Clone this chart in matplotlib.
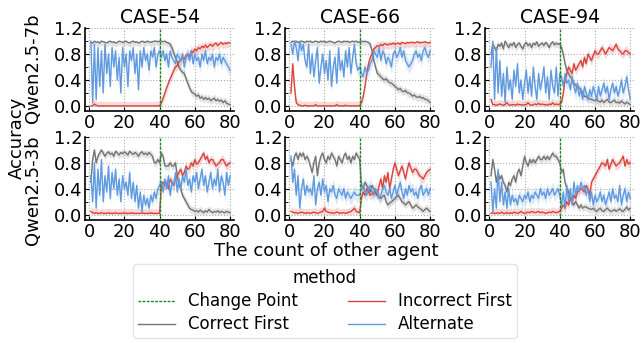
import numpy as np
import matplotlib
matplotlib.use('Agg')
import matplotlib.pyplot as plt
from matplotlib.ticker import MultipleLocator

# x axis: count of other agent
x = np.arange(1, 81)
change_point = 40
cases = ['CASE-54', 'CASE-66', 'CASE-94']
models = ['Qwen2.5-7b', 'Qwen2.5-3b']

# ---- Qwen2.5-7b ----
c54_7b_correct = [0.98, 0.97, 1.0, 0.98, 0.99, 0.97, 1.0, 0.99, 0.98, 0.97,
                  0.99, 1.0, 0.98, 0.99, 0.97, 0.98, 1.0, 0.99, 0.98, 0.99,
                  1.0, 0.98, 0.97, 0.99, 1.0, 0.98, 0.99, 0.97, 0.98, 1.0,
                  0.99, 0.98, 1.0, 0.99, 0.98, 0.99, 1.0, 1.0, 0.99, 1.0,
                  1.0, 0.99, 1.0, 0.98, 0.97, 0.95, 0.9, 0.82, 0.75, 0.68,
                  0.6, 0.55, 0.52, 0.5, 0.42, 0.35, 0.28, 0.22, 0.2, 0.18,
                  0.15, 0.17, 0.12, 0.14, 0.1, 0.13, 0.1, 0.12, 0.08, 0.1,
                  0.12, 0.08, 0.1, 0.07, 0.09, 0.05, 0.08, 0.04, 0.03, 0.02]
c54_7b_incorrect = [0.0, 0.0, 0.03, 0.01, 0.0, 0.0, 0.0, 0.0, 0.0, 0.0,
                    0.0, 0.0, 0.0, 0.0, 0.0, 0.0, 0.0, 0.0, 0.0, 0.0,
                    0.0, 0.0, 0.0, 0.0, 0.0, 0.0, 0.0, 0.0, 0.0, 0.0,
                    0.0, 0.0, 0.0, 0.0, 0.0, 0.0, 0.0, 0.0, 0.0, 0.0,
                    0.05, 0.12, 0.2, 0.28, 0.35, 0.42, 0.48, 0.55, 0.6, 0.62,
                    0.68, 0.7, 0.75, 0.72, 0.78, 0.8, 0.76, 0.85, 0.82, 0.88,
                    0.85, 0.9, 0.88, 0.92, 0.9, 0.94, 0.9, 0.93, 0.95, 0.92,
                    0.95, 0.97, 0.93, 0.96, 0.98, 0.95, 0.97, 0.96, 0.98, 0.97]
c54_7b_alternate = [1.0, 0.05, 0.95, 0.1, 0.9, 0.3, 0.85, 0.2, 0.95, 0.5,
                    0.8, 0.3, 0.9, 0.6, 0.85, 0.4, 0.75, 0.2, 0.9, 0.6,
                    0.8, 0.3, 0.85, 0.7, 0.9, 0.5, 0.8, 0.25, 0.85, 0.6,
                    0.9, 0.7, 0.8, 0.55, 0.85, 0.75, 0.9, 0.6, 0.8, 0.85,
                    0.75, 0.85, 0.7, 0.8, 0.6, 0.85, 0.75, 0.7, 0.65, 0.8,
                    0.75, 0.7, 0.8, 0.6, 0.75, 0.8, 0.7, 0.85, 0.65, 0.8,
                    0.7, 0.75, 0.6, 0.8, 0.7, 0.85, 0.65, 0.75, 0.7, 0.8,
                    0.6, 0.75, 0.7, 0.8, 0.65, 0.75, 0.7, 0.65, 0.6, 0.55]

c66_7b_correct = [0.98, 1.0, 0.99, 1.0, 0.98, 0.99, 1.0, 0.99, 0.98, 1.0,
                  0.99, 1.0, 0.98, 0.99, 1.0, 0.99, 0.98, 1.0, 0.99, 1.0,
                  0.98, 0.99, 1.0, 0.99, 0.98, 0.97, 0.99, 1.0, 0.99, 0.98,
                  1.0, 0.99, 1.0, 0.98, 0.99, 1.0, 0.99, 1.0, 0.98, 0.99,
                  1.0, 0.99, 1.0, 0.99, 0.98, 0.95, 0.85, 0.7, 0.6, 0.5,
                  0.48, 0.45, 0.42, 0.4, 0.42, 0.38, 0.36, 0.35, 0.33, 0.3,
                  0.28, 0.25, 0.27, 0.23, 0.22, 0.24, 0.2, 0.2, 0.18, 0.15,
                  0.17, 0.14, 0.13, 0.15, 0.12, 0.13, 0.1, 0.1, 0.08, 0.05]
c66_7b_incorrect = [0.2, 0.65, 0.3, 0.05, 0.02, 0.01, 0.0, 0.0, 0.01, 0.0,
                    0.0, 0.0, 0.0, 0.0, 0.02, 0.0, 0.0, 0.0, 0.0, 0.0,
                    0.0, 0.0, 0.0, 0.0, 0.0, 0.0, 0.02, 0.0, 0.0, 0.0,
                    0.0, 0.01, 0.0, 0.0, 0.0, 0.0, 0.0, 0.0, 0.0, 0.0,
                    0.05, 0.15, 0.3, 0.5, 0.65, 0.75, 0.8, 0.88, 0.9, 0.93,
                    0.92, 0.95, 0.93, 0.96, 0.95, 0.94, 0.96, 0.95, 0.97, 0.95,
                    0.96, 0.97, 0.95, 0.98, 0.97, 0.96, 0.98, 0.97, 0.98, 0.98,
                    0.97, 0.98, 0.99, 0.97, 0.98, 0.98, 0.99, 0.98, 0.97, 0.98]
c66_7b_alternate = [0.95, 0.8, 1.0, 0.9, 0.7, 1.0, 0.85, 0.95, 0.7, 0.6,
                    0.95, 0.5, 0.8, 0.45, 0.7, 0.9, 0.35, 0.6, 0.8, 0.5,
                    0.7, 0.4, 0.85, 0.3, 0.6, 0.75, 0.35, 0.9, 0.55, 0.7,
                    0.45, 0.85, 0.6, 0.9, 0.5, 0.75, 0.95, 0.65, 0.55, 0.6,
                    0.5, 0.45, 0.6, 0.5, 0.55, 0.65, 0.7, 0.85, 0.8, 0.75,
                    0.9, 0.7, 0.85, 0.8, 0.65, 0.75, 0.7, 0.6, 0.8, 0.85,
                    0.75, 0.8, 0.9, 0.75, 0.85, 0.7, 0.65, 0.6, 0.65, 0.7,
                    0.8, 0.85, 0.75, 0.8, 0.7, 0.85, 0.9, 0.8, 0.75, 0.85]

c94_7b_correct = [0.8, 0.95, 0.9, 0.85, 0.95, 0.92, 0.97, 0.88, 1.0, 0.95,
                  0.9, 0.96, 0.93, 0.98, 0.9, 0.95, 0.97, 0.92, 0.88, 0.95,
                  0.98, 0.93, 0.96, 0.9, 0.97, 0.94, 0.99, 0.92, 0.95, 0.97,
                  0.93, 0.98, 0.95, 0.9, 0.96, 0.99, 0.94, 0.97, 0.95, 0.96,
                  0.9, 0.8, 0.65, 0.55, 0.5, 0.45, 0.4, 0.35, 0.32, 0.3,
                  0.28, 0.25, 0.2, 0.15, 0.14, 0.12, 0.11, 0.1, 0.09, 0.08,
                  0.1, 0.07, 0.06, 0.09, 0.05, 0.08, 0.1, 0.06, 0.05, 0.07,
                  0.09, 0.05, 0.06, 0.04, 0.08, 0.05, 0.03, 0.06, 0.04, 0.02]
c94_7b_incorrect = [0.1, 0.02, 0.02, 0.01, 0.02, 0.03, 0.02, 0.01, 0.02, 0.05,
                    0.02, 0.01, 0.02, 0.02, 0.01, 0.03, 0.02, 0.02, 0.01, 0.02,
                    0.02, 0.05, 0.02, 0.01, 0.02, 0.03, 0.02, 0.04, 0.02, 0.03,
                    0.02, 0.02, 0.01, 0.03, 0.02, 0.05, 0.02, 0.03, 0.02, 0.03,
                    0.05, 0.2, 0.4, 0.5, 0.6, 0.55, 0.5, 0.65, 0.55, 0.6,
                    0.65, 0.7, 0.6, 0.75, 0.65, 0.8, 0.75, 0.7, 0.78, 0.85,
                    0.8, 0.8, 0.85, 0.9, 0.85, 0.8, 0.85, 0.9, 0.88, 0.85,
                    0.9, 0.95, 0.88, 0.85, 0.82, 0.8, 0.85, 0.85, 0.82, 0.8]
c94_7b_alternate = [0.6, 1.0, 0.1, 0.9, 0.2, 0.7, 0.15, 0.5, 0.05, 0.6,
                    0.25, 0.4, 0.1, 0.55, 0.3, 0.65, 0.2, 0.4, 0.1, 0.35,
                    0.55, 0.2, 0.45, 0.15, 0.6, 0.3, 0.1, 0.5, 0.25, 0.4,
                    0.6, 0.2, 0.45, 0.1, 0.55, 0.3, 0.2, 0.6, 0.15, 0.5,
                    0.45, 0.3, 0.5, 0.35, 0.4, 0.25, 0.45, 0.3, 0.2, 0.35,
                    0.15, 0.25, 0.1, 0.3, 0.2, 0.1, 0.25, 0.15, 0.3, 0.2,
                    0.1, 0.3, 0.15, 0.25, 0.35, 0.2, 0.3, 0.1, 0.25, 0.35,
                    0.2, 0.3, 0.15, 0.25, 0.4, 0.2, 0.3, 0.45, 0.25, 0.1]

# ---- Qwen2.5-3b ----
c54_3b_correct = [0.5, 0.85, 1.0, 0.8, 0.9, 0.95, 1.0, 0.95, 0.9, 0.95,
                  0.97, 0.93, 0.95, 0.9, 0.98, 0.95, 0.92, 0.96, 0.94, 0.97,
                  0.95, 0.92, 0.98, 0.95, 0.93, 0.96, 0.94, 0.9, 0.95, 0.97,
                  0.93, 0.95, 0.92, 0.96, 0.93, 0.9, 0.8, 0.8, 0.85, 0.8,
                  0.95, 0.9, 0.75, 0.75, 0.75, 0.8, 0.75, 0.75, 0.8, 0.6,
                  0.45, 0.4, 0.3, 0.25, 0.2, 0.15, 0.1, 0.08, 0.07, 0.05,
                  0.06, 0.04, 0.07, 0.05, 0.03, 0.06, 0.04, 0.08, 0.05, 0.03,
                  0.05, 0.04, 0.06, 0.03, 0.05, 0.04, 0.03, 0.05, 0.04, 0.03]
c54_3b_incorrect = [0.05, 0.03, 0.02, 0.03, 0.02, 0.02, 0.03, 0.02, 0.02, 0.02,
                    0.03, 0.02, 0.02, 0.02, 0.03, 0.02, 0.02, 0.02, 0.02, 0.03,
                    0.02, 0.02, 0.02, 0.03, 0.02, 0.02, 0.02, 0.02, 0.02, 0.03,
                    0.02, 0.02, 0.02, 0.02, 0.03, 0.02, 0.02, 0.02, 0.02, 0.02,
                    0.45, 0.5, 0.45, 0.5, 0.4, 0.55, 0.5, 0.45, 0.55, 0.6,
                    0.65, 0.7, 0.6, 0.65, 0.75, 0.7, 0.72, 0.8, 0.75, 0.85,
                    0.78, 0.8, 0.85, 0.9, 0.95, 0.85, 0.9, 0.8, 0.85, 0.85,
                    0.8, 0.75, 0.78, 0.8, 0.85, 0.85, 0.8, 0.75, 0.78, 0.8]
c54_3b_alternate = [0.6, 0.2, 0.8, 0.1, 0.7, 0.3, 0.85, 0.2, 0.6, 0.35,
                    0.75, 0.25, 0.65, 0.4, 0.7, 0.3, 0.55, 0.2, 0.6, 0.4,
                    0.5, 0.3, 0.65, 0.25, 0.5, 0.2, 0.45, 0.1, 0.35, 0.05,
                    0.3, 0.15, 0.25, 0.1, 0.3, 0.2, 0.35, 0.25, 0.4, 0.45,
                    0.5, 0.35, 0.55, 0.4, 0.6, 0.3, 0.5, 0.45, 0.65, 0.35,
                    0.55, 0.4, 0.6, 0.5, 0.7, 0.45, 0.55, 0.35, 0.6, 0.5,
                    0.65, 0.4, 0.55, 0.7, 0.45, 0.6, 0.35, 0.5, 0.65, 0.4,
                    0.55, 0.45, 0.7, 0.35, 0.6, 0.5, 0.3, 0.65, 0.45, 0.6]

c66_3b_correct = [0.85, 0.75, 0.9, 0.95, 0.85, 0.95, 0.9, 0.95, 0.85, 0.9,
                  0.85, 0.75, 0.65, 0.8, 0.9, 0.6, 0.8, 0.9, 0.95, 0.85,
                  0.8, 0.9, 0.85, 0.95, 0.9, 0.85, 0.75, 0.9, 0.85, 0.8,
                  0.9, 0.95, 0.85, 0.9, 0.8, 0.9, 0.85, 0.95, 0.9, 0.85,
                  0.45, 0.4, 0.5, 0.45, 0.4, 0.35, 0.45, 0.4, 0.35, 0.3,
                  0.28, 0.25, 0.28, 0.3, 0.2, 0.15, 0.18, 0.2, 0.22, 0.25,
                  0.28, 0.3, 0.25, 0.2, 0.18, 0.15, 0.18, 0.2, 0.15, 0.1,
                  0.12, 0.15, 0.12, 0.1, 0.08, 0.05, 0.08, 0.1, 0.07, 0.05]
c66_3b_incorrect = [0.05, 0.04, 0.03, 0.03, 0.02, 0.03, 0.04, 0.03, 0.02, 0.03,
                    0.03, 0.02, 0.03, 0.04, 0.03, 0.02, 0.03, 0.04, 0.05, 0.1,
                    0.05, 0.04, 0.03, 0.03, 0.02, 0.03, 0.04, 0.03, 0.02, 0.03,
                    0.03, 0.02, 0.03, 0.04, 0.05, 0.07, 0.1, 0.05, 0.04, 0.03,
                    0.25, 0.35, 0.3, 0.4, 0.35, 0.3, 0.32, 0.35, 0.33, 0.3,
                    0.45, 0.55, 0.4, 0.6, 0.5, 0.65, 0.4, 0.55, 0.7, 0.8,
                    0.7, 0.6, 0.68, 0.75, 0.65, 0.55, 0.7, 0.8, 0.72, 0.65,
                    0.7, 0.7, 0.65, 0.6, 0.58, 0.55, 0.6, 0.65, 0.68, 0.7]
c66_3b_alternate = [0.9, 0.5, 0.7, 0.3, 0.6, 0.1, 0.4, 0.55, 0.3, 0.45,
                    0.35, 0.4, 0.3, 0.6, 0.15, 0.4, 0.5, 0.3, 0.55, 0.35,
                    0.45, 0.2, 0.4, 0.35, 0.45, 0.3, 0.25, 0.4, 0.35, 0.3,
                    0.4, 0.25, 0.35, 0.3, 0.25, 0.3, 0.35, 0.3, 0.3, 0.3,
                    0.4, 0.45, 0.35, 0.3, 0.4, 0.45, 0.35, 0.3, 0.4, 0.35,
                    0.25, 0.3, 0.4, 0.45, 0.35, 0.3, 0.4, 0.25, 0.35, 0.45,
                    0.3, 0.4, 0.5, 0.35, 0.25, 0.4, 0.3, 0.45, 0.35, 0.4,
                    0.3, 0.35, 0.25, 0.4, 0.45, 0.3, 0.35, 0.4, 0.3, 0.4]

c94_3b_correct = [0.6, 0.85, 0.7, 0.5, 0.65, 0.55, 0.6, 0.5, 0.45, 0.35,
                  0.5, 0.45, 0.55, 0.6, 0.5, 0.65, 0.7, 0.6, 0.75, 0.9,
                  0.8, 0.75, 0.85, 0.8, 0.85, 0.8, 0.85, 0.9, 0.85, 0.85,
                  0.9, 0.85, 0.9, 0.85, 0.9, 0.95, 0.9, 0.9, 0.85, 0.8,
                  0.65, 0.7, 0.5, 0.4, 0.35, 0.25, 0.2, 0.15, 0.2, 0.15,
                  0.1, 0.15, 0.1, 0.12, 0.12, 0.1, 0.09, 0.08, 0.1, 0.07,
                  0.05, 0.08, 0.1, 0.06, 0.05, 0.08, 0.1, 0.07, 0.05, 0.06,
                  0.08, 0.05, 0.07, 0.09, 0.06, 0.05, 0.08, 0.12, 0.07, 0.1]
c94_3b_incorrect = [0.02, 0.03, 0.02, 0.02, 0.03, 0.02, 0.04, 0.02, 0.02, 0.03,
                    0.02, 0.03, 0.02, 0.04, 0.03, 0.02, 0.03, 0.05, 0.03, 0.02,
                    0.03, 0.04, 0.03, 0.05, 0.04, 0.03, 0.04, 0.05, 0.03, 0.04,
                    0.03, 0.02, 0.03, 0.04, 0.03, 0.05, 0.04, 0.03, 0.04, 0.05,
                    0.1, 0.15, 0.1, 0.2, 0.15, 0.25, 0.2, 0.3, 0.25, 0.35,
                    0.38, 0.4, 0.38, 0.35, 0.45, 0.4, 0.3, 0.5, 0.55, 0.6,
                    0.65, 0.7, 0.75, 0.8, 0.78, 0.75, 0.85, 0.7, 0.78, 0.85,
                    0.8, 0.75, 0.78, 0.8, 0.85, 0.9, 0.75, 0.85, 0.78, 0.8]
c94_3b_alternate = [0.5, 0.05, 0.4, 0.1, 0.7, 0.2, 0.5, 0.15, 0.35, 0.1,
                    0.4, 0.15, 0.3, 0.2, 0.25, 0.15, 0.3, 0.25, 0.2, 0.3,
                    0.25, 0.35, 0.2, 0.3, 0.25, 0.35, 0.3, 0.25, 0.4, 0.3,
                    0.35, 0.25, 0.4, 0.3, 0.35, 0.4, 0.3, 0.35, 0.4, 0.3,
                    0.15, 0.35, 0.1, 0.45, 0.2, 0.4, 0.15, 0.5, 0.3, 0.45,
                    0.35, 0.5, 0.4, 0.45, 0.3, 0.4, 0.2, 0.35, 0.15, 0.3,
                    0.2, 0.25, 0.35, 0.2, 0.3, 0.15, 0.25, 0.35, 0.2, 0.4,
                    0.25, 0.3, 0.2, 0.45, 0.15, 0.3, 0.4, 0.2, 0.35, 0.25]

# rows = models, cols = cases; each entry is (correct, incorrect, alternate)
data = [[(c54_7b_correct, c54_7b_incorrect, c54_7b_alternate),
         (c66_7b_correct, c66_7b_incorrect, c66_7b_alternate),
         (c94_7b_correct, c94_7b_incorrect, c94_7b_alternate)],
        [(c54_3b_correct, c54_3b_incorrect, c54_3b_alternate),
         (c66_3b_correct, c66_3b_incorrect, c66_3b_alternate),
         (c94_3b_correct, c94_3b_incorrect, c94_3b_alternate)]]

# half width of the shaded band for each method
band = [0.06, 0.07, 0.1]
labels = ['Correct First', 'Incorrect First', 'Alternate']
colors = ['#737373', '#d8433c', '#5f9ae0']

plt.rcParams['font.family'] = 'DejaVu Sans'
plt.rcParams['font.size'] = 13

fig, axes = plt.subplots(2, 3, figsize=(6.42, 3.43), dpi=100)
fig.subplots_adjust(left=0.1325, right=0.988, top=0.918, bottom=0.359,
                    wspace=0.342, hspace=0.31)

for r in range(2):
    for c in range(3):
        ax = axes[r, c]
        ax.axvline(change_point, color='#1a8a1a', linestyle=(0, (2, 1)), linewidth=1.0,
                   label='Change Point', zorder=3)
        for k in range(3):
            y = np.array(data[r][c][k])
            ax.fill_between(x, np.clip(y - band[k], 0, 1), np.clip(y + band[k], 0, 1),
                            color=colors[k], alpha=0.2, linewidth=0)
            ax.plot(x, y, color=colors[k], linewidth=1.0, label=labels[k])
        ax.set_xlim(-2.3, 82.3)
        ax.set_ylim(-0.08, 1.2)
        ax.set_xticks([0, 20, 40, 60, 80])
        ax.set_yticks([0.0, 0.4, 0.8, 1.2])
        ax.yaxis.set_minor_locator(MultipleLocator(0.2))
        ax.grid(True, linestyle=':', color='#aaaaaa', linewidth=0.8)
        ax.spines['top'].set_visible(False)
        ax.spines['right'].set_visible(False)
        ax.spines['left'].set_linewidth(1.2)
        ax.spines['bottom'].set_linewidth(1.2)
        ax.tick_params(which='major', direction='in', length=3, pad=2)
        ax.tick_params(which='minor', direction='in', length=2)
        if r == 0:
            ax.set_title(cases[c], fontsize=13.5, pad=4)

fig.text(0.052, 1 - 68 / 343, models[0], rotation=90, ha='center', va='center')
fig.text(0.052, 1 - 190 / 343, models[1], rotation=90, ha='center', va='center')
fig.text(0.026, 1 - 138 / 343, 'Accuracy', rotation=90, ha='center', va='center')
fig.text(326 / 642, 1 - 251 / 343, 'The count of other agent', ha='center', va='center')

# legend order: Change Point, Correct First, Incorrect First, Alternate
h, l = axes[0, 0].get_legend_handles_labels()
fig.legend(h, l, title='method', ncol=2, loc='upper center',
           bbox_to_anchor=(325 / 642, 1 - 256 / 343), fontsize=12,
           title_fontsize=12, frameon=True, edgecolor='#dddddd',
           columnspacing=3.0, handlelength=2.2, borderpad=0.3, labelspacing=0.3)

fig.savefig('out.png', dpi=100)
